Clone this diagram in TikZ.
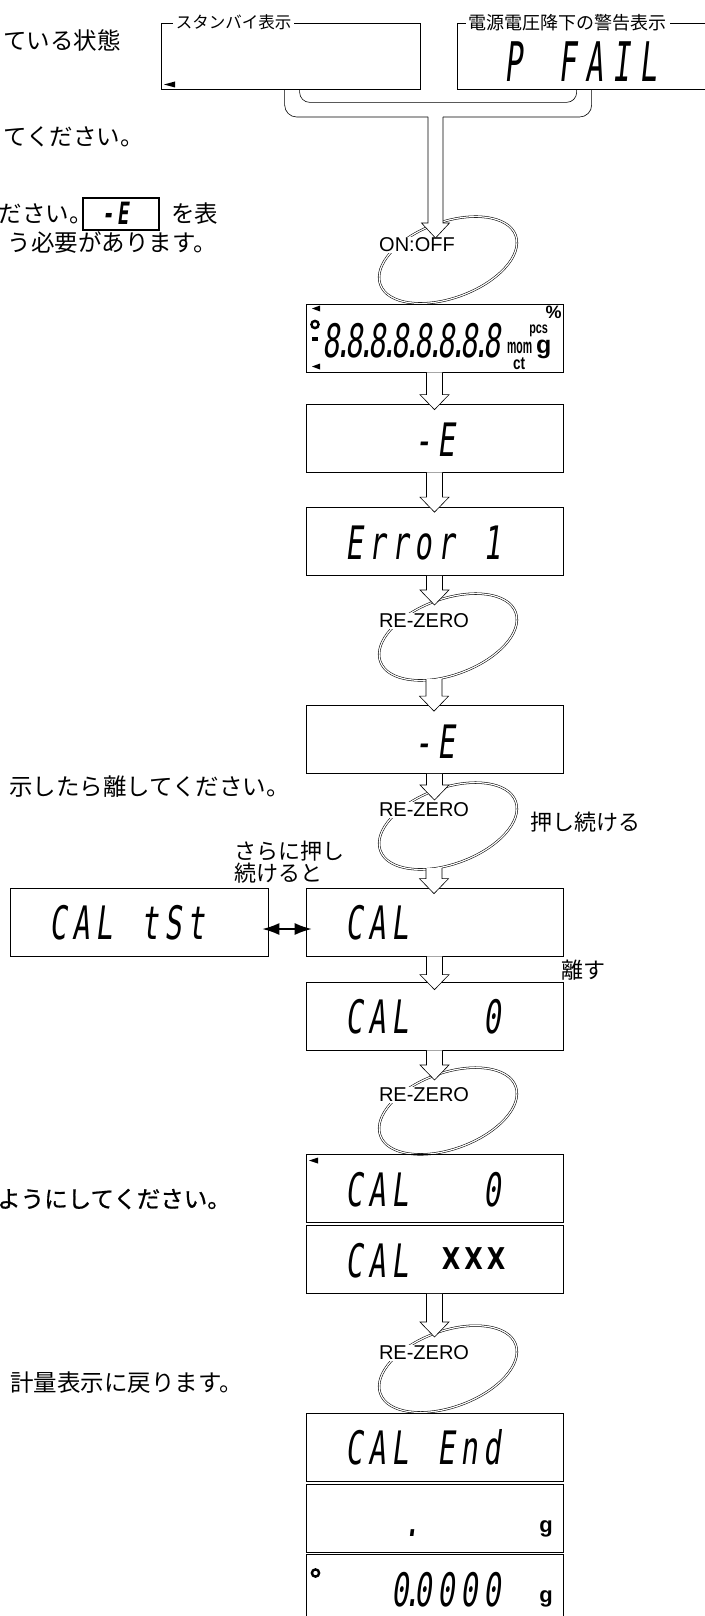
\documentclass[tikz,border=0pt]{standalone}
\usepackage{fontspec}
\usepackage{graphicx}
\usetikzlibrary{calc,arrows.meta}
\newfontfamily\jp{Noto Sans CJK JP}
\newfontfamily\jpb[FakeBold=0.8]{Noto Sans CJK JP}
\newfontfamily\lab{Liberation Sans}
\newfontfamily\plainsans{DejaVu Sans}
\newfontfamily\segfont[FakeSlant=0.2]{DejaVu Sans Mono}
\newlength\cellw
\def\cells#1{\cellsA#1\relax}
\def\cellsA#1{\ifx#1\relax\else\ifx#1.\makebox[0pt]{.}\else\makebox[\cellw]{#1}\fi\expandafter\cellsA\fi}
\newcommand{\seg}[5]{\pgfmathsetlength{\cellw}{#4/#2}\scalebox{#2}[#3]{\fontsize{#1}{#1}\selectfont\cells{#5}}}
\newcommand{\sg}[1]{{\segfont\seg{36}{0.8}{1.28}{23pt}{#1}}}
\newcommand{\hollowarrow}[2]{%
  \path[hollow] let \p1=(#1), \p2=(#2) in
    (\x1-8pt,\y1) -- (\x1-8pt,\y2+15pt) -- (\x1-14.5pt,\y2+15pt) -- (\x1,\y2)
    -- (\x1+14.5pt,\y2+15pt) -- (\x1+8pt,\y2+15pt) -- (\x1+8pt,\y1);}

\begin{document}
\begin{tikzpicture}[x=1pt,y=-1pt,
    disp/.style={draw,line width=0.7pt,minimum width=257pt,minimum height=68pt,inner sep=0pt},
    topbox/.style={draw,line width=0.7pt,minimum height=66pt,inner sep=0pt},
    boxlabel/.style={fill=white,inner xsep=3pt,inner ysep=1pt,anchor=west},
    hollow/.style={draw,fill=white,line width=0.6pt},
    pipe/.style={line width=0.6pt},
    loopline/.style={double,double distance=1.2pt,line width=0.55pt},
    key/.style={font=\lab\fontsize{20}{20}\selectfont,fill=white,inner sep=0.5pt},
    jtext/.style={font=\jp\fontsize{23.5}{23.5}\selectfont,inner sep=0pt},
    note/.style={font=\jp\fontsize{22}{22}\selectfont,inner sep=0pt,anchor=west,align=left},
    seg/.style={inner sep=0pt,anchor=base west},
    unit/.style={inner sep=0pt},
    ring/.style={line width=2.4pt},
    dbl/.style={{Latex[length=17pt,width=12pt]}-{Latex[length=17pt,width=12pt]},line width=1.5pt,shorten <=-6pt,shorten >=-6pt}]

  \useasboundingbox (0,0) rectangle (704,1616);

  \node[jtext,anchor=east] (j1) at (121,40) {ている状態};
  \node[jtext,anchor=east] (j2) at (144,137) {てください。};
  \node[jtext,anchor=east] (j3) at (93,214) {ださい。};
  \node[draw,line width=1.4pt,minimum width=76pt,minimum height=32pt,inner sep=0pt] (ib) at (121,214) {};
  \node[seg] (ibt) at (100,225) {\bfseries\segfont\seg{24}{0.8}{1.28}{15pt}{-E}};
  \node[jtext,anchor=west] (j4) at (171,214) {を表};
  \node[jtext,anchor=east] (j5) at (217,243) {う必要があります。};
  \node[jtext,anchor=east] (j6) at (290,787) {示したら離してください。};
  \node[jtext,anchor=east,font=\jpb\fontsize{23.5}{23.5}\selectfont] (j7) at (231,1199) {ようにしてください。};
  \node[jtext,anchor=east] (j8) at (243,1383) {計量表示に戻ります。};

  \node[topbox,minimum width=259pt] (sb) at (290.5,56) {};
  \node[boxlabel,font=\jp\fontsize{16.5}{16.5}\selectfont] (sbl) at ($(sb.north west)+(12,0)$) {スタンバイ表示};
  \fill (164,84.5) -- (175,81.5) -- (175,87.5) -- cycle;
  \node[topbox,minimum width=263pt] (pf) at (588.5,56) {};
  \node[boxlabel,font=\jp\fontsize{18}{18}\selectfont] (pfl) at ($(pf.north west)+(9,0)$) {電源電圧降下の警告表示};
  \node[seg] (pft) at (500,82) {\segfont\seg{42}{0.7}{1.3}{27pt}{P~FAIL}};

  \coordinate (l0) at (448,260);
  \coordinate (l0t) at (435.5,238);
  \draw[loopline,rotate around={20:(l0)}] (l0) ellipse [x radius=72pt,y radius=38pt];
  \node[key] (k0) at ($(l0)+(-31,-15)$) {ON:OFF};

  \coordinate (pa) at ($(sb.south west)+(124,0)$);
  \coordinate (pb) at ($(sb.south west)+(139,0)$);
  \coordinate (pc) at ($(pf.south west)+(120,0)$);
  \coordinate (pd) at ($(pf.south west)+(135,0)$);
  \draw[pipe,rounded corners=12pt] (pa) |- (428,117);
  \draw[pipe,rounded corners=10pt] (pb) |- ($(pc)+(0,13)$) -- (pc);
  \filldraw[pipe,fill=white] (428,117) -- (428,223) -- (421.5,223) -- (l0t) -- (449.5,223) -- (443,223) -- (443,117);
  \draw[pipe,rounded corners=12pt] (443,117) -| (pd);

  \node[disp] (b1) at (434.5,338) {};
  \node[seg] (t1) at ($(b1.north west)+(14,54)$) {\sg{8.8.8.8.8.8.8.8}};
  \fill (312,308.5) -- (320,305.5) -- (320,311.5) -- cycle;
  \fill (312,366.5) -- (320,363.5) -- (320,369.5) -- cycle;
  \draw[ring] (315,324.5) circle [radius=3.6pt];
  \fill (311.5,337) rectangle (317.5,341);
  \node[unit,font=\lab\bfseries\fontsize{18}{18}\selectfont] (u1) at ($(b1.north west)+(248,9)$) {\%};
  \node[unit,font=\lab\bfseries\fontsize{16}{16}\selectfont] (u2) at ($(b1.north west)+(233,27)$) {\scalebox{0.68}[1]{pcs}};
  \node[unit,font=\lab\bfseries\fontsize{21}{21}\selectfont] (u3) at ($(b1.north west)+(214,44)$) {\scalebox{0.5}[1]{mom}};
  \node[unit,font=\lab\bfseries\fontsize{25}{25}\selectfont] (u4) at ($(b1.north west)+(238,46)$) {g};
  \node[unit,font=\lab\bfseries\fontsize{18}{18}\selectfont] (u5) at ($(b1.north west)+(213.5,60)$) {\scalebox{0.75}[1]{ct}};

  \node[disp] (b2) at (434.5,438) {};
  \node[seg] (t2) at ($(b2.north west)+(106,53)$) {\sg{-E}};
  \node[disp] (b3) at (434.5,541.5) {};
  \node[seg] (t3) at ($(b3.north west)+(37,52)$) {\sg{Error~1}};

  \coordinate (l1) at (448,637);
  \coordinate (l1t) at (434,605);
  \coordinate (l1b) at ($(l1)+(-14,42)$);
  \draw[loopline,rotate around={20:(l1)}] (l1) ellipse [x radius=72pt,y radius=38pt];
  \node[key] (k1) at ($(l1)+(-24,-16)$) {RE-ZERO};

  \node[disp] (b4) at (434.5,739.5) {};
  \node[seg] (t4) at ($(b4.north west)+(106,53)$) {\sg{-E}};

  \coordinate (l2) at (448,826);
  \coordinate (l2t) at (434,800);
  \coordinate (l2b) at ($(l2)+(-14,42)$);
  \draw[loopline,rotate around={20:(l2)}] (l2) ellipse [x radius=72pt,y radius=38pt];
  \node[key] (k2) at ($(l2)+(-24,-16)$) {RE-ZERO};
  \node[note] (n1) at (530,822) {押し続ける};
  \node[note] (n2) at (234,862) {さらに押し\\続けると};

  \node[disp] (b5) at (434.5,922) {};
  \node[seg] (t5) at ($(b5.north west)+(37,52)$) {\sg{CAL}};
  \node[disp,minimum width=258pt] (tst) at (139,922) {};
  \node[seg] (t5b) at ($(tst.north west)+(37,52)$) {\sg{CAL~tSt}};
  \draw[dbl] ([yshift=-7pt]tst.east) -- ([yshift=-7pt]b5.west);
  \node[note] (n3) at (561,970) {離す};

  \node[disp] (b6) at (434.5,1016) {};
  \node[seg] (t6) at ($(b6.north west)+(37,52)$) {\sg{CAL~~~0}};

  \coordinate (l3) at (448,1111);
  \coordinate (l3t) at (434,1080);
  \draw[loopline,rotate around={20:(l3)}] (l3) ellipse [x radius=72pt,y radius=38pt];
  \node[key] (k3) at ($(l3)+(-24,-16)$) {RE-ZERO};

  \node[disp] (b7) at (434.5,1188.5) {};
  \node[seg] (t7) at ($(b7.north west)+(37,52)$) {\sg{CAL~~~0}};
  \fill (309,1160.5) -- (318,1157.5) -- (318,1163.5) -- cycle;
  \node[disp] (b8) at (434.5,1259.5) {};
  \node[seg] (t8) at ($(b8.north west)+(37,52)$) {\sg{CAL}};
  \node[seg] (t8x) at ($(b8.north west)+(134,44)$) {\plainsans\bfseries\seg{30}{0.8}{1}{22.5pt}{XXX}};

  \coordinate (l4) at (448,1369);
  \coordinate (l4t) at (434,1337);
  \draw[loopline,rotate around={20:(l4)}] (l4) ellipse [x radius=72pt,y radius=38pt];
  \node[key] (k4) at ($(l4)+(-24,-16)$) {RE-ZERO};

  \node[disp] (b9) at (434.5,1447) {};
  \node[seg] (t9) at ($(b9.north west)+(37,52)$) {\sg{CAL~End}};
  \node[disp] (b10) at (434.5,1518) {};
  \node[seg] (t10) at ($(b10.north west)+(106,53)$) {\sg{.}};
  \node[unit,font=\lab\bfseries\fontsize{22}{22}\selectfont,anchor=base] (g10) at ($(b10.north west)+(240.5,49)$) {g};
  \node[disp] (b11) at (434.5,1588) {};
  \node[seg] (t11) at ($(b11.north west)+(83,53)$) {\sg{0.0000}};
  \node[unit,font=\lab\bfseries\fontsize{22}{22}\selectfont,anchor=base] (g11) at ($(b11.north west)+(240.5,49)$) {g};
  \draw[ring] (315.5,1573) circle [radius=3.6pt];

  \hollowarrow{b1.south}{$(b2.north)+(0,6)$}
  \hollowarrow{b2.south}{$(b3.north)+(0,5)$}
  \hollowarrow{b3.south}{l1t}
  \hollowarrow{l1b}{$(b4.north)+(0,6)$}
  \hollowarrow{b4.south}{l2t}
  \hollowarrow{l2b}{$(b5.north)+(0,6)$}
  \hollowarrow{b5.south}{$(b6.north)+(0,8)$}
  \hollowarrow{b6.south}{l3t}
  \hollowarrow{b8.south}{l4t}
\end{tikzpicture}
\end{document}
